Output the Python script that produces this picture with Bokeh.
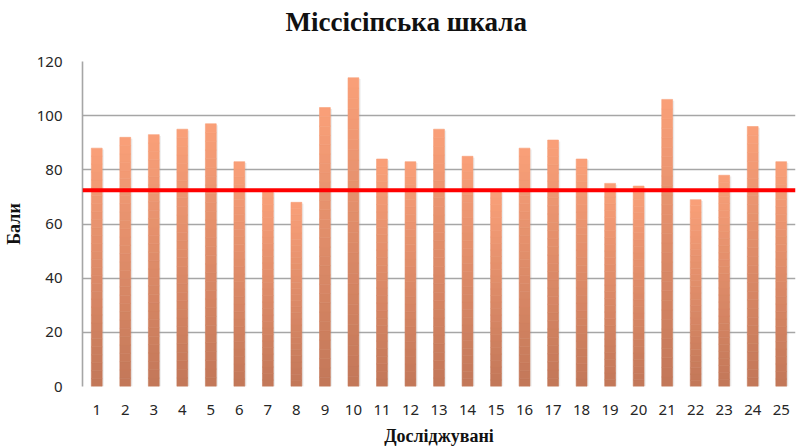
from bokeh.plotting import figure
from bokeh.models import FactorRange, Span, Range1d, FixedTicker, Title
from bokeh.transform import dodge
from bokeh.embed import file_html
from bokeh.resources import INLINE

# ---- data ----
subjects = [str(i) for i in range(1, 26)]
scores = [88, 92, 93, 95, 97, 83, 72, 68, 103, 114, 84, 83, 95, 85, 72,
          88, 91, 84, 75, 74, 106, 69, 78, 96, 83]
threshold = 72.5
y_ticks = [0, 20, 40, 60, 80, 100, 120]

title_text = "Міссісіпська шкала"
x_label = "Досліджувані"
y_label = "Бали"

W, H = 803, 448
p = figure(width=W, height=H, x_range=FactorRange(*subjects),
           y_range=Range1d(0, 120), output_backend="svg", toolbar_location=None,
           min_border_left=78, min_border_right=8, min_border_top=61,
           min_border_bottom=61, title=None)

# spacer panel next to the frame, then the real title above it
p.add_layout(Title(text=" ", text_font_size="1px", standoff=14), "above")
p.add_layout(Title(text=title_text, align="left", offset=203, vertical_align="top",
                   standoff=12, text_font="Liberation Serif", text_font_style="bold",
                   text_font_size="27px", text_color="#111111"), "above")

p.outline_line_color = None
p.background_fill_color = "white"
p.border_fill_color = "white"

# grid
p.xgrid.grid_line_color = None
p.ygrid.grid_line_color = "#A6A6A6"
p.ygrid.grid_line_width = 1.6
p.yaxis.ticker = FixedTicker(ticks=y_ticks)

# shadow
p.vbar(x=dodge("x", 0.06, range=p.x_range), top="top", width=0.38,
       source=dict(x=subjects, top=[v - 0.5 for v in scores]),
       fill_color="#9a9a9a", fill_alpha=0.18, line_color=None)

# gradient bars (bands from data)
top_c = (0xFA, 0xA0, 0x79)
bot_c = (0xC2, 0x77, 0x58)
N = 30
for k in range(N):
    t = (k + 0.5) / N
    c = tuple(int(round(bot_c[i] + (top_c[i] - bot_c[i]) * t)) for i in range(3))
    col = "#%02x%02x%02x" % c
    p.vbar(x=subjects, bottom=[v * k / N for v in scores],
           top=[v * (k + 1) / N for v in scores], width=0.38,
           fill_color=col, line_color=col, line_width=0.6)

p.add_layout(Span(location=threshold, dimension="width", line_color="#FF0000",
                  line_width=4))

# axes
for ax in (p.xaxis, p.yaxis):
    ax.major_tick_line_color = None
    ax.minor_tick_line_color = None
    ax.major_label_text_font = "Noto Sans"
    ax.major_label_text_font_size = "15px"
    ax.major_label_text_color = "#262626"
    ax.axis_label_text_font = "Liberation Serif"
    ax.axis_label_text_font_style = "bold"
    ax.axis_label_text_font_size = "18px"
    ax.axis_label_text_color = "#111111"

p.xaxis.axis_line_color = None
p.xaxis.major_label_standoff = 12
p.xaxis.axis_label = x_label
p.xaxis.axis_label_standoff = 8

p.yaxis.axis_line_color = "#A6A6A6"
p.yaxis.axis_line_width = 1.6
p.yaxis.major_label_standoff = 14
p.yaxis.axis_label = y_label
p.yaxis.axis_label_standoff = 10

open("out.html", "w").write(file_html(p, INLINE))
